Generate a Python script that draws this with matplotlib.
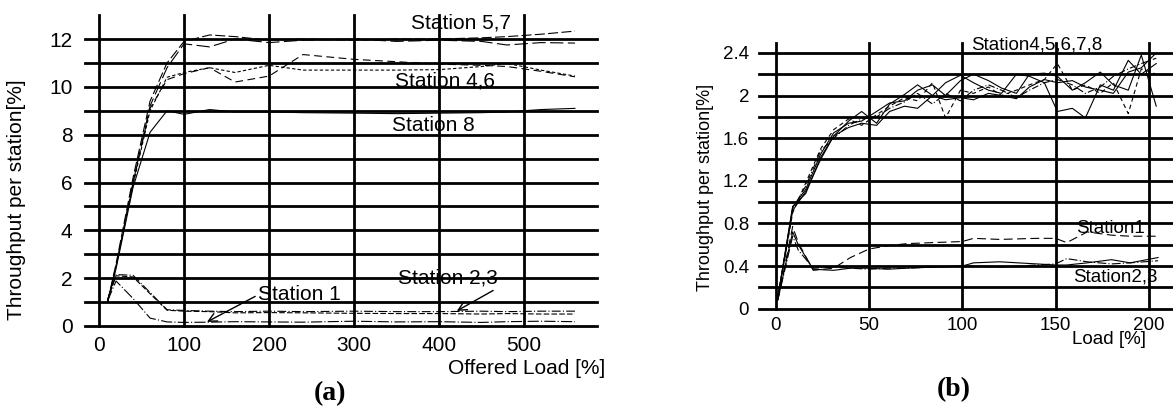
import numpy as np
import matplotlib.pyplot as plt

plt.rcParams['font.family'] = ['Liberation Sans', 'DejaVu Sans']

# ---- panel (a): throughput vs offered load ----
load_a = [10, 20, 40, 60, 80, 100, 130, 160, 200, 240, 300, 350, 400, 450, 480, 520, 560]
st5_a = [1.0, 2.6, 6.2, 9.4, 11.0, 11.9, 12.17, 12.1, 11.95, 12.0, 11.95, 12.0, 12.0, 12.05, 12.1, 12.2, 12.33]
st7_a = [1.0, 2.5, 6.0, 9.2, 10.8, 11.8, 11.67, 12.0, 11.85, 11.95, 12.0, 11.9, 11.95, 11.9, 11.75, 11.85, 11.83]
st4_a = [1.0, 2.5, 6.0, 9.1, 10.3, 10.55, 10.8, 10.2, 10.45, 11.35, 11.15, 11.05, 10.95, 10.9, 10.85, 10.65, 10.42]
st6_a = [1.0, 2.5, 5.9, 9.0, 10.4, 10.6, 10.8, 10.6, 10.9, 10.7, 10.7, 10.7, 10.72, 10.85, 10.98, 10.7, 10.45]
st8_a = [1.0, 2.4, 5.8, 8.1, 9.0, 8.85, 9.05, 8.95, 8.95, 8.92, 8.9, 8.88, 8.9, 8.92, 8.95, 9.05, 9.1]
st2_a = [1.1, 2.15, 2.12, 1.4, 0.68, 0.65, 0.62, 0.6, 0.62, 0.6, 0.62, 0.6, 0.6, 0.62, 0.6, 0.62, 0.62]
st3_a = [1.1, 2.1, 2.05, 1.35, 0.66, 0.62, 0.6, 0.55, 0.56, 0.55, 0.53, 0.52, 0.52, 0.5, 0.52, 0.5, 0.5]
st1_a = [1.05, 1.88, 1.15, 0.33, 0.17, 0.15, 0.16, 0.18, 0.17, 0.16, 0.2, 0.17, 0.18, 0.15, 0.18, 0.2, 0.18]

# ---- panel (b): throughput vs load ----
load_b = [1, 9, 16, 24, 31, 39, 46, 54, 61, 69, 76, 84, 91, 99, 106, 114,
          121, 129, 136, 144, 151, 159, 166, 174, 181, 189, 196, 204]
st4_b = [0.10, 0.95, 1.12, 1.45, 1.65, 1.74, 1.76, 1.85, 1.93, 1.95, 2.05, 2.10, 2.00, 2.14,
         2.20, 2.14, 2.07, 2.02, 2.20, 2.21, 2.18, 2.05, 2.12, 2.22, 2.10, 2.05, 2.38, 1.90]
st5_b = [0.10, 0.92, 1.10, 1.40, 1.62, 1.76, 1.85, 1.74, 1.92, 2.01, 2.10, 2.00, 2.12, 2.19,
         2.12, 2.05, 2.02, 2.20, 2.18, 2.12, 1.85, 1.88, 1.79, 2.10, 2.05, 2.33, 2.20, 2.30]
st6_b = [0.10, 0.90, 1.18, 1.50, 1.68, 1.78, 1.72, 1.82, 1.90, 1.98, 1.95, 2.12, 1.79, 2.05,
         2.02, 2.08, 2.00, 2.05, 2.10, 2.15, 2.30, 2.05, 2.10, 2.02, 2.12, 1.83, 2.25, 2.20]
st7_b = [0.10, 0.94, 1.15, 1.48, 1.60, 1.72, 1.78, 1.80, 1.88, 1.94, 2.02, 1.92, 2.02, 1.95,
         2.05, 2.10, 2.05, 1.98, 2.05, 2.12, 2.15, 2.10, 2.02, 2.08, 2.18, 2.25, 2.30, 2.35]
st8_b = [0.10, 0.96, 1.08, 1.42, 1.62, 1.70, 1.74, 1.72, 1.85, 1.90, 1.88, 2.00, 1.96, 1.98,
         1.96, 2.02, 2.00, 1.97, 2.08, 2.15, 2.12, 2.14, 2.08, 2.05, 2.02, 2.22, 2.26, 2.40]

load_b_low = [1, 9, 12, 20, 31, 40, 50, 60, 70, 84, 100, 106, 120, 140, 150, 156, 167, 180, 190, 205]
st1_b = [0.08, 0.77, 0.62, 0.36, 0.38, 0.48, 0.56, 0.59, 0.61, 0.62, 0.63, 0.66, 0.65, 0.66,
         0.66, 0.62, 0.72, 0.69, 0.68, 0.68]
st2_b = [0.08, 0.72, 0.60, 0.37, 0.36, 0.38, 0.38, 0.37, 0.38, 0.39, 0.40, 0.43, 0.44, 0.42,
         0.41, 0.41, 0.43, 0.46, 0.43, 0.48]
st3_b = [0.08, 0.68, 0.55, 0.38, 0.39, 0.38, 0.37, 0.38, 0.38, 0.39, 0.40, 0.40, 0.39, 0.41,
         0.42, 0.47, 0.44, 0.42, 0.43, 0.45]

fig = plt.figure(figsize=(11.73, 4.08), dpi=100)
ax1 = fig.add_axes([0.0725, 0.201, 0.4365, 0.762])
ax2 = fig.add_axes([0.647, 0.2434, 0.353, 0.6505])

grid_kw = dict(color='black', lw=2, zorder=1, clip_on=False)
thin = dict(color='black', lw=0.8, zorder=3)

# panel (a)
ax1.set_xlim(-16.5, 586)
ax1.set_ylim(0, 13)
for v in range(0, 501, 100):
    ax1.axvline(v, **grid_kw)
for h in range(0, 13):
    ax1.axhline(h, **grid_kw)
ax1.plot(load_a, st5_a, ls=(0, (9, 3)), **thin)
ax1.plot(load_a, st7_a, ls=(0, (12, 4)), **thin)
ax1.plot(load_a, st4_a, ls=(0, (7, 4)), **thin)
ax1.plot(load_a, st6_a, ls=(0, (3, 2)), **thin)
ax1.plot(load_a, st8_a, ls='-', **thin)
ax1.plot(load_a, st2_a, ls=(0, (8, 2, 1, 2)), **thin)
ax1.plot(load_a, st3_a, ls=(0, (5, 2)), **thin)
ax1.plot(load_a, st1_a, ls=(0, (10, 2, 1, 2)), **thin)

ax1.set_xticks(range(0, 501, 100))
ax1.set_yticks(range(0, 13, 2))
ax1.tick_params(length=0, labelsize=15)
ax1.tick_params(axis='y', pad=9)
ax1.tick_params(axis='x', pad=7)
for s in ax1.spines.values():
    s.set_visible(False)
ax1.set_ylabel('Throughput per station[%]', fontsize=15)
ax1.yaxis.set_label_coords(-0.115, 0.405)
ax1.set_xlabel('Offered Load [%]', fontsize=15, ha='right')
ax1.xaxis.set_label_coords(1.016, -0.105)

ax1.text(367, 12.67, 'Station 5,7', fontsize=15, va='center', zorder=4)
ax1.text(348, 10.25, 'Station 4,6', fontsize=15, va='center', zorder=4)
ax1.text(345, 8.375, 'Station 8', fontsize=15, va='center', zorder=4)
ax1.annotate('Station 1', xy=(127, 0.17), xytext=(187, 1.3), fontsize=15, va='center',
             zorder=4, arrowprops=dict(arrowstyle='->', color='black', lw=1,
                                       shrinkA=0, shrinkB=0, relpos=(0, 0.5)))
ax1.annotate('Station 2,3', xy=(421, 0.63), xytext=(352, 2.0), fontsize=15, va='center',
             zorder=4, arrowprops=dict(arrowstyle='->', color='black', lw=1,
                                       shrinkA=0, shrinkB=0, relpos=(1, 0)))

# panel (b)
ax2.set_xlim(-9.1, 213)
ax2.set_ylim(0, 2.49)
for v in range(0, 201, 50):
    ax2.axvline(v, **grid_kw)
for h in np.arange(0, 2.41, 0.2):
    ax2.axhline(h, **grid_kw)
ax2.plot(load_b, st4_b, ls='-', **thin)
ax2.plot(load_b, st5_b, ls='-', **thin)
ax2.plot(load_b, st6_b, ls=(0, (4, 3)), **thin)
ax2.plot(load_b, st7_b, ls=(0, (6, 2, 1, 2)), **thin)
ax2.plot(load_b, st8_b, ls='-', **thin)
ax2.plot(load_b_low, st1_b, ls=(0, (8, 4)), **thin)
ax2.plot(load_b_low, st2_b, ls='-', **thin)
ax2.plot(load_b_low, st3_b, ls=(0, (8, 2, 1, 2)), **thin)

ax2.set_xticks(range(0, 201, 50))
ax2.set_yticks([0, 0.4, 0.8, 1.2, 1.6, 2.0, 2.4])
ax2.set_yticklabels(['0', '0.4', '0.8', '1.2', '1.6', '2', '2.4'])
ax2.tick_params(length=0, labelsize=13.5)
ax2.tick_params(axis='y', pad=7)
ax2.tick_params(axis='x', pad=6)
for s in ax2.spines.values():
    s.set_visible(False)
ax2.set_ylabel('Throughput per station[%]', fontsize=13)
ax2.yaxis.set_label_coords(-0.109, 0.457)
ax2.set_xlabel('Load [%]', fontsize=13.5, ha='right')
ax2.xaxis.set_label_coords(0.935, -0.085)

ax2.text(104.7, 2.47, 'Station4,5,6,7,8', fontsize=13.5, va='center', zorder=4)
ax2.text(161, 0.756, 'Station1', fontsize=13.5, va='center', zorder=4)
ax2.text(159.5, 0.297, 'Station2,3', fontsize=13.5, va='center', zorder=4)

fig.text(330 / 1173, 1 - 394 / 408, '(a)', family='Liberation Serif', fontweight='bold',
         fontsize=20, ha='center', va='center')
fig.text(954 / 1173, 1 - 390 / 408, '(b)', family='Liberation Serif', fontweight='bold',
         fontsize=20, ha='center', va='center')

fig.savefig('out.png', dpi=100)
